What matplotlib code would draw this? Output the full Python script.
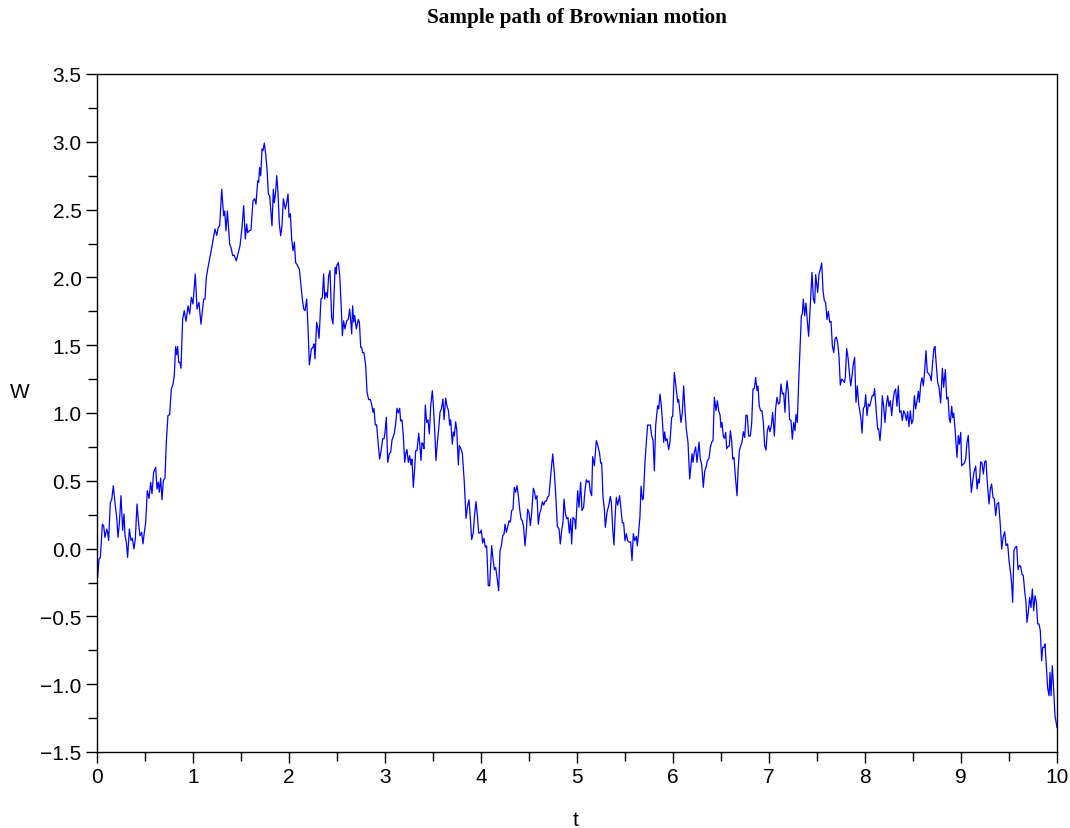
import matplotlib
matplotlib.use("Agg")
import matplotlib.pyplot as plt
from matplotlib.ticker import MultipleLocator, FormatStrFormatter

# ---- Sample path (t, W) ----
t_vals = [
    0.0, 0.007, 0.021, 0.035, 0.056, 0.069, 0.083, 0.101, 0.111, 0.121, 0.139, 0.153, 0.17, 0.187,
    0.205, 0.219, 0.233, 0.25, 0.267, 0.281, 0.292, 0.306, 0.319, 0.337, 0.354, 0.368, 0.385, 0.399,
    0.417, 0.434, 0.448, 0.465, 0.479, 0.493, 0.507, 0.524, 0.542, 0.559, 0.573, 0.59, 0.611, 0.625,
    0.639, 0.649, 0.663, 0.677, 0.691, 0.708, 0.722, 0.739, 0.757, 0.774, 0.792, 0.805, 0.819, 0.83,
    0.84, 0.851, 0.864, 0.875, 0.892, 0.909, 0.927, 0.948, 0.965, 0.983, 1.0, 1.024, 1.042, 1.062,
    1.083, 1.111, 1.125, 1.139, 1.153, 1.19,
    1.229, 1.247, 1.264, 1.278, 1.299, 1.319, 1.33, 1.344, 1.358, 1.382, 1.396, 1.413, 1.427, 1.451,
    1.472, 1.49, 1.51, 1.528, 1.545, 1.559, 1.569, 1.587, 1.604, 1.625, 1.642, 1.656, 1.674, 1.684,
    1.694, 1.705, 1.719, 1.729, 1.743, 1.757, 1.771, 1.785, 1.799, 1.812, 1.823, 1.837, 1.847, 1.861,
    1.872, 1.885, 1.899, 1.913, 1.927, 1.941, 1.962, 1.976, 1.99, 2.0, 2.014, 2.028, 2.042, 2.056,
    2.069, 2.087, 2.108, 2.125, 2.139, 2.153, 2.167, 2.184, 2.198, 2.212, 2.233, 2.25, 2.26, 2.271,
    2.288, 2.302, 2.313, 2.333, 2.347, 2.361, 2.372, 2.385, 2.399, 2.413, 2.427, 2.444, 2.458, 2.472,
    2.48, 2.493,
    2.497, 2.514, 2.528, 2.542, 2.556, 2.569, 2.583, 2.601, 2.618, 2.632, 2.642, 2.653, 2.663, 2.674,
    2.684, 2.701, 2.722, 2.733, 2.747, 2.757, 2.767, 2.781, 2.799, 2.813, 2.83, 2.847, 2.861, 2.875,
    2.885, 2.899, 2.913, 2.931, 2.944, 2.958, 2.976, 2.99, 3.0, 3.014, 3.028, 3.045, 3.059, 3.073,
    3.083, 3.097, 3.111, 3.125, 3.139, 3.153, 3.163, 3.177, 3.191, 3.205, 3.219, 3.229, 3.243, 3.257,
    3.271, 3.281, 3.295, 3.309, 3.319, 3.333, 3.351, 3.361, 3.375, 3.385, 3.396, 3.406, 3.42, 3.434,
    3.448, 3.462, 3.476, 3.493, 3.503, 3.517, 3.531, 3.545, 3.559, 3.573, 3.587, 3.604, 3.615, 3.632,
    3.646, 3.66, 3.674, 3.684, 3.701, 3.712, 3.722, 3.736,
    3.747, 3.764, 3.774, 3.792, 3.806, 3.826, 3.844, 3.858, 3.875, 3.889, 3.903, 3.92, 3.934, 3.948,
    3.962, 3.976, 3.99, 4.003, 4.017, 4.031, 4.045, 4.059, 4.076, 4.09, 4.111, 4.125, 4.139, 4.153,
    4.167, 4.184, 4.198, 4.212, 4.226, 4.24, 4.25, 4.264, 4.278, 4.292, 4.306, 4.319, 4.333, 4.347,
    4.361, 4.375, 4.389, 4.403, 4.417, 4.431, 4.444, 4.458, 4.472, 4.486, 4.5, 4.514, 4.528, 4.545,
    4.559, 4.569, 4.583, 4.597, 4.611, 4.625, 4.639, 4.653, 4.667, 4.681, 4.694, 4.708, 4.726, 4.747,
    4.764, 4.778, 4.795, 4.813, 4.826, 4.84, 4.854, 4.865, 4.878, 4.892, 4.906, 4.92, 4.934, 4.944,
    4.958, 4.976, 4.986,
    5.007, 5.021, 5.038, 5.052, 5.069, 5.083, 5.097, 5.111, 5.125, 5.139, 5.153, 5.163, 5.181, 5.201,
    5.219, 5.236, 5.246, 5.257, 5.271, 5.285, 5.295, 5.313, 5.33, 5.347, 5.358, 5.372, 5.385, 5.399,
    5.41, 5.424, 5.444, 5.458, 5.472, 5.486, 5.5, 5.514, 5.528, 5.545, 5.559, 5.573, 5.587, 5.601,
    5.618, 5.628, 5.642, 5.656, 5.667, 5.681, 5.691, 5.708, 5.722, 5.736, 5.764, 5.778, 5.792, 5.806,
    5.819, 5.84, 5.851, 5.865, 5.878, 5.889, 5.903, 5.913, 5.924, 5.938, 5.955, 5.969, 5.986, 5.997,
    6.014, 6.035, 6.049, 6.059, 6.069, 6.083, 6.097, 6.111, 6.125, 6.139, 6.156, 6.174, 6.188, 6.198,
    6.208, 6.222, 6.236, 6.25,
    6.271, 6.285, 6.299, 6.316, 6.33, 6.344, 6.358, 6.375, 6.389, 6.403, 6.417, 6.431, 6.448, 6.462,
    6.476, 6.49, 6.5, 6.51, 6.524, 6.535, 6.549, 6.559, 6.573, 6.587, 6.597, 6.611, 6.622, 6.635,
    6.649, 6.667, 6.677, 6.691, 6.705, 6.719, 6.733, 6.747, 6.76, 6.774, 6.788, 6.806, 6.82, 6.833,
    6.847, 6.861, 6.875, 6.885, 6.899, 6.913, 6.927, 6.941, 6.955, 6.969, 6.983, 6.997, 7.01, 7.024,
    7.038, 7.056, 7.069, 7.083, 7.097, 7.111, 7.125, 7.139, 7.153, 7.167, 7.174, 7.188, 7.201, 7.215,
    7.229, 7.243, 7.257, 7.271, 7.281, 7.295, 7.309, 7.326, 7.337, 7.347, 7.358, 7.372, 7.385, 7.399,
    7.413, 7.424, 7.438, 7.448, 7.462, 7.476, 7.486,
    7.507, 7.521, 7.535, 7.549, 7.563, 7.576, 7.59, 7.604, 7.618, 7.632, 7.646, 7.66, 7.674, 7.688,
    7.701, 7.715, 7.729, 7.743, 7.757, 7.771, 7.785, 7.795, 7.809, 7.823, 7.837, 7.851, 7.865, 7.878,
    7.892, 7.906, 7.92, 7.934, 7.948, 7.958, 7.969, 7.983, 7.997, 8.007, 8.021, 8.035, 8.049, 8.062,
    8.076, 8.09, 8.1, 8.118, 8.132, 8.142, 8.156, 8.17, 8.18, 8.194, 8.208, 8.222, 8.236, 8.25,
    8.264, 8.278, 8.292, 8.306, 8.319, 8.333, 8.347, 8.361, 8.375, 8.389, 8.403, 8.417, 8.431, 8.444,
    8.458, 8.472, 8.486, 8.5, 8.514, 8.528, 8.542, 8.556, 8.566, 8.58, 8.594, 8.608, 8.622, 8.635,
    8.649, 8.663, 8.677, 8.69, 8.704, 8.718, 8.729, 8.743,
    8.757, 8.771, 8.788, 8.806, 8.819, 8.837, 8.851, 8.865, 8.878, 8.889, 8.903, 8.913, 8.924, 8.938,
    8.948, 8.958, 8.972, 8.983, 8.997, 9.007, 9.021, 9.035, 9.049, 9.062, 9.076, 9.09, 9.108, 9.122,
    9.135, 9.153, 9.167, 9.181, 9.191, 9.205, 9.219, 9.233, 9.247, 9.26, 9.274, 9.292, 9.306, 9.319,
    9.333, 9.347, 9.361, 9.375, 9.392, 9.41, 9.424, 9.438, 9.455, 9.469, 9.486, 9.5, 9.514, 9.528,
    9.538, 9.552, 9.566, 9.58, 9.594, 9.607, 9.621, 9.635, 9.649, 9.663, 9.677, 9.687, 9.701, 9.715,
    9.729, 9.743, 9.757, 9.771, 9.785, 9.799, 9.813, 9.826, 9.84, 9.851, 9.865, 9.875, 9.889, 9.903,
    9.917, 9.927, 9.938, 9.951, 9.962, 9.979, 10.0,
]

w_vals = [
    -0.06, -0.21, -0.077, -0.065, 0.18, 0.17, 0.083, 0.144, 0.12, 0.06, 0.34, 0.36, 0.464, 0.34,
    0.23, 0.083, 0.19, 0.39, 0.135, 0.255, 0.095, 0.046, -0.065, 0.144, 0.06, 0.077, -0.003, 0.07,
    0.329, 0.18, 0.095, 0.12, 0.035, 0.12, 0.19, 0.427, 0.37, 0.489, 0.405, 0.563, 0.60, 0.44,
    0.49, 0.415, 0.52, 0.36, 0.50, 0.52, 0.784, 0.98, 0.99, 1.177, 1.214, 1.275, 1.49, 1.43,
    1.49, 1.374, 1.374, 1.33, 1.69, 1.755, 1.676, 1.79, 1.73, 1.853, 1.804, 2.025, 1.767, 1.816,
    1.655, 1.84, 1.84, 2.0, 2.06, 2.2,
    2.357, 2.31, 2.37, 2.38, 2.65, 2.455, 2.49, 2.344, 2.49, 2.246, 2.22, 2.16, 2.165, 2.123,
    2.185, 2.235, 2.364, 2.53, 2.283, 2.394, 2.33, 2.344, 2.35, 2.566, 2.58, 2.54, 2.713, 2.7,
    2.81, 2.75, 2.947, 2.935, 2.99, 2.91, 2.8, 2.615, 2.6, 2.48, 2.38, 2.65, 2.55, 2.63,
    2.75, 2.63, 2.40, 2.307, 2.38, 2.58, 2.504, 2.55, 2.615, 2.443, 2.47, 2.283, 2.197, 2.26,
    2.11, 2.09, 2.06, 1.94, 1.84, 1.767, 1.755, 1.84, 1.632, 1.354, 1.472, 1.485, 1.51, 1.40,
    1.669, 1.62, 1.55, 1.84, 1.85, 2.025, 1.84, 1.89, 1.85, 2.01, 2.05, 1.705, 1.657, 1.92,
    2.075, 2.025,
    2.086, 2.11, 2.02, 1.816, 1.57, 1.68, 1.62, 1.68, 1.69, 1.767, 1.69, 1.583, 1.79, 1.67,
    1.72, 1.62, 1.69, 1.67, 1.484, 1.484, 1.445, 1.445, 1.35, 1.153, 1.098, 1.10, 1.065, 1.005,
    1.034, 0.911, 0.913, 0.76, 0.66, 0.715, 0.81, 0.81, 0.857, 0.968, 0.636, 0.70, 0.71, 0.80,
    0.82, 0.85, 0.919, 1.035, 1.0, 1.035, 0.94, 0.95, 0.83, 0.636, 0.71, 0.73, 0.636, 0.685,
    0.617, 0.66, 0.452, 0.587, 0.722, 0.722, 0.85, 0.78, 0.65, 0.78, 0.77, 0.737, 1.059, 0.93,
    0.95, 0.845, 1.05, 1.164, 1.066, 0.882, 0.65, 0.78, 0.88, 1.005, 1.03, 1.103, 0.95, 1.11,
    1.05, 1.02, 0.91, 0.95, 0.77, 0.86, 0.83, 0.935,
    0.88, 0.617, 0.76, 0.735, 0.70, 0.489, 0.223, 0.305, 0.36, 0.22, 0.066, 0.12, 0.255, 0.346,
    0.245, 0.115, 0.115, 0.137, 0.041, 0.076, 0.01, 0.02, -0.274, -0.274, 0.022, -0.077, -0.156, -0.139,
    -0.213, -0.31, -0.015, 0.02, 0.095, 0.107, 0.18, 0.12, 0.16, 0.205, 0.195, 0.28, 0.29, 0.452,
    0.415, 0.465, 0.39, 0.29, 0.218, 0.205, 0.16, 0.02, 0.13, 0.29, 0.265, 0.17, 0.265, 0.445,
    0.415, 0.365, 0.39, 0.18, 0.26, 0.29, 0.346, 0.32, 0.35, 0.35, 0.38, 0.39, 0.538, 0.698,
    0.56, 0.40, 0.165, 0.145, 0.034, 0.13, 0.195, 0.365, 0.265, 0.22, 0.23, 0.115, 0.22, 0.034,
    0.23, 0.215, 0.145,
    0.427, 0.305, 0.489, 0.28, 0.305, 0.427, 0.508, 0.49, 0.50, 0.42, 0.39, 0.678, 0.61, 0.796,
    0.755, 0.70, 0.63, 0.633, 0.378, 0.29, 0.157, 0.268, 0.316, 0.385, 0.34, 0.145, 0.027, 0.268,
    0.378, 0.32, 0.39, 0.29, 0.19, 0.19, 0.058, 0.11, 0.058, 0.047, 0.05, -0.089, 0.11, 0.058,
    0.09, 0.02, 0.12, 0.24, 0.46, 0.36, 0.37, 0.636, 0.784, 0.911, 0.911, 0.83, 0.80, 0.574,
    0.905, 1.054, 1.03, 1.14, 1.054, 0.95, 0.784, 0.86, 0.796, 0.81, 0.73, 0.79, 0.968, 0.975,
    1.30, 1.164, 1.08, 1.10, 1.03, 0.93, 1.0, 1.20, 1.02, 0.88, 0.784, 0.513, 0.624, 0.70,
    0.636, 0.71, 0.75, 0.636,
    0.785, 0.656, 0.62, 0.452, 0.57, 0.60, 0.648, 0.666, 0.746, 0.785, 0.797, 1.116, 1.017, 1.09,
    1.017, 0.985, 0.894, 0.93, 0.83, 0.813, 0.857, 0.737, 0.752, 0.757, 0.87, 0.797, 0.66, 0.672,
    0.538, 0.39, 0.563, 0.72, 0.757, 0.786, 0.862, 0.82, 0.985, 0.98, 0.83, 0.83, 0.93, 1.177,
    1.18, 1.263, 1.165, 1.20, 1.05, 1.017, 1.017, 0.93, 0.757, 0.727, 0.87, 0.906, 0.862, 0.906,
    1.005, 0.83, 1.03, 1.116, 1.066, 1.074, 1.214, 1.14, 1.147, 1.005, 1.13, 1.238, 1.15, 0.95,
    0.946, 0.807, 0.93, 0.87, 0.99, 0.93, 1.23, 1.52, 1.717, 1.73, 1.84, 1.717, 1.81, 1.68,
    1.566, 1.71, 1.89, 2.037, 1.84, 1.81, 2.02,
    1.89, 2.025, 2.06, 2.106, 1.90, 1.83, 1.816, 1.69, 1.75, 1.67, 1.675, 1.496, 1.446, 1.546,
    1.56, 1.52, 1.42, 1.206, 1.25, 1.24, 1.225, 1.26, 1.476, 1.41, 1.30, 1.20, 1.275, 1.36,
    1.41, 1.079, 1.20, 1.066, 1.005, 0.955, 0.852, 1.034, 1.05, 1.135, 0.98, 1.066, 1.05, 1.09,
    1.13, 1.127, 1.18, 1.005, 0.882, 0.882, 0.796, 0.92, 1.127, 1.05, 0.93, 1.058, 1.127, 1.048,
    1.09, 0.98, 1.09, 1.157, 1.177, 1.05, 1.20, 1.005, 1.017, 0.944, 1.017, 0.993, 0.944, 1.01,
    0.90, 1.017, 0.92, 0.95, 1.127, 1.03, 1.09, 1.16, 1.079, 1.213, 1.26, 1.20, 1.312, 1.46,
    1.30, 1.29, 1.275, 1.237, 1.37, 1.476, 1.49, 1.35,
    1.226, 1.19, 1.074, 1.33, 1.19, 1.32, 1.103, 1.116, 0.956, 0.93, 1.05, 0.966, 1.0, 0.882,
    0.78, 0.673, 0.833, 0.77, 0.857, 0.611, 0.62, 0.63, 0.66, 0.78, 0.835, 0.63, 0.415, 0.50,
    0.563, 0.608, 0.44, 0.513, 0.484, 0.64, 0.63, 0.55, 0.64, 0.647, 0.488, 0.329, 0.44, 0.476,
    0.378, 0.365, 0.243, 0.329, 0.34, 0.169, -0.003, 0.083, 0.124, 0.022, 0.035, -0.089, -0.163, -0.261,
    -0.396, -0.015, 0.01, 0.017, -0.155, -0.125, -0.13, -0.187, -0.2, -0.31, -0.396, -0.544, -0.47, -0.36,
    -0.435, -0.298, -0.458, -0.348, -0.396, -0.556, -0.556, -0.605, -0.827, -0.728, -0.728, -0.703, -0.864, -1.03,
    -1.085, -0.912, -1.085, -0.864, -0.99, -1.232, -1.32,
]

fig = plt.figure(figsize=(10.7, 8.29), dpi=100)
ax = fig.add_axes([97 / 1070, 1 - 753 / 829, 960 / 1070, 678 / 829])

ax.plot(t_vals, w_vals, color="#0000ff", linewidth=0.9)

ax.set_xlim(0, 10)
ax.set_ylim(-1.5, 3.5)
ax.xaxis.set_major_locator(MultipleLocator(1))
ax.xaxis.set_minor_locator(MultipleLocator(0.5))
ax.yaxis.set_major_locator(MultipleLocator(0.5))
ax.yaxis.set_minor_locator(MultipleLocator(0.25))
ax.xaxis.set_major_formatter(FormatStrFormatter("%d"))
# true minus sign for negative ticks
ax.yaxis.set_major_formatter(
    plt.FuncFormatter(lambda v, p: f"{v:.1f}".replace("-", "\u2212")))

lab_font = dict(family="Liberation Sans", size=15)
ax.tick_params(axis="both", which="major", direction="out", length=8, width=1,
               labelsize=15, pad=3)
ax.tick_params(axis="both", which="minor", direction="out", length=6.5, width=1)
for lbl in ax.get_xticklabels() + ax.get_yticklabels():
    lbl.set_family("Liberation Sans")
for sp in ax.spines.values():
    sp.set_linewidth(1.0)

ax.set_xlabel("t", fontdict=lab_font, va="center", ha="center")
ax.set_ylabel("W", fontdict=lab_font, rotation=0, va="center", ha="center")
ax.xaxis.set_label_coords(0.499, -0.099)
ax.yaxis.set_label_coords(-0.080, 0.531)

fig.text(0.539, 1 - 18 / 829, "Sample path of Brownian motion", ha="center", va="center",
         family="Liberation Serif", fontweight="bold", fontsize=15.3)

fig.savefig("out.png", dpi=100)
